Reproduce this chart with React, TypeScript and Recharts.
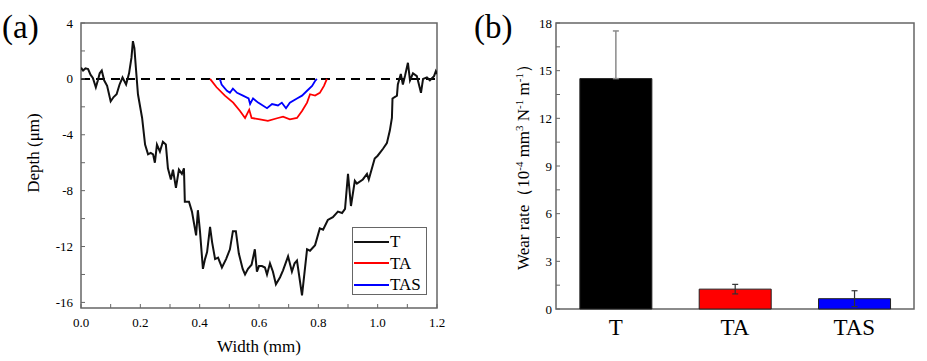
import React from 'react';
import {
  LineChart,
  Line,
  XAxis,
  YAxis,
  ReferenceLine,
  ReferenceArea,
  BarChart,
  Bar,
  ErrorBar,
  Cell,
} from 'recharts';

// (a) wear track profiles, [width (mm), depth (µm)]
const profileT: [number, number][] = [
  [0, 0.8], [0.007, 0.6], [0.015, 0.75], [0.024, 0.7], [0.032, 0.3], [0.04, 0.07], [0.05, -0.6],
  [0.057, -0.1], [0.063, 0.4], [0.07, 0.6], [0.078, -0.1], [0.088, -0.5], [0.1, -1.6],
  [0.11, -1.3], [0.12, -1.1], [0.13, -0.4], [0.14, 0.1], [0.152, -0.4], [0.162, 0.4],
  [0.17, 1.5], [0.175, 2.7], [0.18, 2.2], [0.185, 0.8], [0.192, -1.1], [0.206, -2.8],
  [0.216, -4.7], [0.226, -5.4], [0.235, -5.3], [0.243, -5.4], [0.249, -6.0], [0.256, -4.7],
  [0.266, -5.2], [0.276, -4.5], [0.286, -4.7], [0.293, -6.4], [0.303, -7.2], [0.31, -6.5],
  [0.32, -7.8], [0.33, -6.5], [0.34, -6.8], [0.347, -6.4], [0.35, -8.8], [0.364, -8.8],
  [0.374, -9.5], [0.388, -11.2], [0.394, -9.4], [0.401, -10.9], [0.411, -13.6], [0.418, -12.9],
  [0.425, -12.4], [0.435, -10.6], [0.442, -11.7], [0.452, -12.9], [0.462, -12.8], [0.475, -13.5],
  [0.489, -12.9], [0.502, -12.2], [0.512, -10.9], [0.522, -10.9], [0.532, -12.5], [0.545, -13.6],
  [0.553, -14.0], [0.563, -13.6], [0.575, -13.3], [0.586, -12.2], [0.593, -13.8], [0.6, -13.4],
  [0.61, -13.4], [0.62, -13.5], [0.627, -14.0], [0.637, -13.2], [0.647, -13.8], [0.657, -14.7],
  [0.671, -14.2], [0.681, -13.7], [0.698, -12.7], [0.711, -13.8], [0.72, -13.2], [0.728, -13.0],
  [0.745, -15.5], [0.762, -12.2], [0.772, -12.3], [0.789, -11.9], [0.805, -10.7], [0.816, -10.8],
  [0.832, -10.1], [0.849, -9.9], [0.866, -9.5], [0.88, -9.6], [0.89, -9.3], [0.9, -6.8],
  [0.91, -9.1], [0.923, -7.3], [0.93, -7.5], [0.95, -7.2], [0.964, -6.8], [0.97, -7.2],
  [0.99, -5.7], [1.0, -5.5], [1.018, -5.0], [1.031, -4.6], [1.041, -3.7], [1.048, -2.8],
  [1.05, -1.4], [1.065, -1.2], [1.068, -0.4], [1.078, 0.35], [1.085, -0.4], [1.092, 0.2],
  [1.102, 1.15], [1.109, -0.1], [1.119, 0.4], [1.132, 0.2], [1.146, -1.0], [1.153, 0.0],
  [1.166, 0.1], [1.176, -0.1], [1.19, 0.2], [1.196, 0.55], [1.2, 0.35],
];

const profileTA: [number, number][] = [
  [0.435, 0], [0.457, -0.6], [0.485, -1.2], [0.513, -1.7], [0.536, -2.3], [0.553, -2.8],
  [0.56, -2.5], [0.567, -2.2], [0.575, -2.8], [0.603, -2.9], [0.63, -3.0], [0.664, -2.8],
  [0.681, -2.7], [0.704, -2.9], [0.728, -2.8], [0.745, -2.3], [0.762, -1.7], [0.772, -1.1],
  [0.789, -1.2], [0.805, -1.0], [0.819, -0.5], [0.829, 0],
];

const profileTAS: [number, number][] = [
  [0.468, 0], [0.474, -0.4], [0.492, -0.85], [0.502, -1.0], [0.512, -0.7], [0.526, -1.0],
  [0.546, -1.2], [0.565, -1.4], [0.57, -1.8], [0.58, -1.4], [0.597, -1.7], [0.627, -2.1],
  [0.644, -1.8], [0.664, -1.9], [0.677, -1.7], [0.691, -2.1], [0.704, -1.7], [0.728, -1.4],
  [0.745, -1.2], [0.762, -0.85], [0.779, -0.5], [0.789, -0.15], [0.795, 0],
];

const seriesNames = ['T', 'TA', 'TAS'];
const seriesColors = ['#111111', '#ff0000', '#0000ff'];
const profiles = [profileT, profileTA, profileTAS];

const widthTicks = [0, 0.1, 0.2, 0.3, 0.4, 0.5, 0.6, 0.7, 0.8, 0.9, 1.0, 1.1, 1.2];
const depthTicks = [-16, -14, -12, -10, -8, -6, -4, -2, 0, 2, 4];

// (b) wear rate
const samples = ['T', 'TA', 'TAS'];
const wearRate = [14.5, 1.25, 0.65];
const wearErr: [number, number][] = [[0, 3], [0.3, 0.3], [0.5, 0.5]];
const barColors = ['#000000', '#ff0000', '#0000ff'];
const wearTicks = [0, 1.5, 3, 4.5, 6, 7.5, 9, 10.5, 12, 13.5, 15, 16.5, 18];

const FRAME = '#666';
const SERIF = '"Liberation Serif", "Times New Roman", serif';
const serifStyle = { fontFamily: SERIF };

const WidthTick = ({ x, y, payload }: any) => {
  const v = payload.value as number;
  const major = Math.round(v * 10) % 2 === 0;
  return (
    <g>
      <line x1={x} x2={x} y1={y} y2={y - 4} stroke={FRAME} strokeWidth={1} />
      {major && (
        <text x={x} y={y + 19} textAnchor="middle" fontSize={13} style={serifStyle} fill="#000">
          {v.toFixed(1)}
        </text>
      )}
    </g>
  );
};

const DepthTick = ({ x, y, payload }: any) => {
  const v = payload.value as number;
  return (
    <g>
      <line x1={x} x2={x + 4} y1={y} y2={y} stroke={FRAME} strokeWidth={1} />
      {v % 4 === 0 && (
        <text x={x - 8} y={y} dy="0.35em" textAnchor="end" fontSize={13} style={serifStyle} fill="#000">
          {v}
        </text>
      )}
    </g>
  );
};

const WearTick = ({ x, y, payload }: any) => {
  const v = payload.value as number;
  return (
    <g>
      <line x1={x} x2={x + 4} y1={y} y2={y} stroke={FRAME} strokeWidth={1} />
      {v % 3 === 0 && (
        <text x={x - 4} y={y} dy="0.35em" textAnchor="end" fontSize={13} style={serifStyle} fill="#000">
          {v}
        </text>
      )}
    </g>
  );
};

const SampleTick = ({ x, y, payload }: any) => (
  <text x={x} y={y + 26} textAnchor="middle" fontSize={23} style={serifStyle} fill="#000">
    {payload.value}
  </text>
);

export default function App() {
  const wearRows = samples.map((name, i) => ({
    name,
    rate: wearRate[i],
    errBig: i === 0 ? wearErr[i] : undefined,
    errSmall: i === 0 ? undefined : wearErr[i],
  }));

  return (
    <div
      style={{
        position: 'absolute',
        left: 0,
        top: 0,
        width: 927,
        height: 361,
        background: '#fff',
        fontFamily: SERIF,
      }}
    >
      <div style={{ position: 'absolute', left: 0, top: 0 }}>
        <LineChart width={460} height={361} margin={{ top: 23, right: 23, bottom: 0, left: 0 }}>
          <XAxis
            type="number"
            dataKey="x"
            domain={[0, 1.2]}
            ticks={widthTicks}
            interval={0}
            axisLine={false}
            tickLine={false}
            tickSize={0}
            tickMargin={0}
            height={53}
            tick={WidthTick}
            allowDataOverflow
          />
          <YAxis
            type="number"
            domain={[-16.4, 4]}
            ticks={depthTicks}
            interval={0}
            axisLine={false}
            tickLine={false}
            tickSize={0}
            tickMargin={0}
            width={81}
            tick={DepthTick}
            allowDataOverflow
          />
          <ReferenceArea x1={0} x2={1.2} y1={-16.4} y2={4} fill="none" stroke={FRAME} strokeWidth={1.5} />
          <ReferenceLine y={0} stroke="#000" strokeWidth={2} strokeDasharray="9 6" />
          {profiles.map((p, i) => (
            <Line
              key={seriesNames[i]}
              name={seriesNames[i]}
              data={p.map(([x, y]) => ({ x, y }))}
              dataKey="y"
              type="linear"
              stroke={seriesColors[i]}
              strokeWidth={i === 0 ? 2 : 1.8}
              dot={false}
              isAnimationActive={false}
            />
          ))}
        </LineChart>
      </div>

      <div style={{ position: 'absolute', left: 460, top: 0 }}>
        <BarChart
          width={467}
          height={361}
          data={wearRows}
          margin={{ top: 23, right: 13, bottom: 0, left: 0 }}
          barCategoryGap="20%"
        >
          <XAxis
            dataKey="name"
            axisLine={false}
            tickLine={false}
            tickSize={0}
            tickMargin={0}
            height={52}
            interval={0}
            tick={SampleTick}
          />
          <YAxis
            type="number"
            domain={[0, 18]}
            ticks={wearTicks}
            interval={0}
            axisLine={false}
            tickLine={false}
            tickSize={0}
            tickMargin={0}
            width={96}
            tick={WearTick}
          />
          <Bar dataKey="rate" stroke="#222" strokeWidth={1} isAnimationActive={false}>
            {wearRows.map((r, i) => (
              <Cell key={r.name} fill={barColors[i]} />
            ))}
            <ErrorBar dataKey="errBig" width={3} stroke="#8a8a8a" strokeWidth={1.5} isAnimationActive={false} />
            <ErrorBar dataKey="errSmall" width={3} stroke="#333" strokeWidth={1.2} isAnimationActive={false} />
          </Bar>
          <ReferenceArea y1={0} y2={18} fill="none" stroke={FRAME} strokeWidth={1.5} />
        </BarChart>
      </div>

      {/* legend for (a) */}
      <div
        style={{
          position: 'absolute',
          left: 352,
          top: 227,
          width: 75,
          height: 68,
          border: `1.5px solid ${FRAME}`,
          background: '#fff',
          boxSizing: 'border-box',
        }}
      >
        {seriesNames.map((n, i) => (
          <div
            key={n}
            style={{ display: 'flex', alignItems: 'center', height: 21.5, marginTop: i === 0 ? 3 : 0 }}
          >
            <div style={{ width: 35, height: 2, background: seriesColors[i], marginLeft: 1 }} />
            <span style={{ fontSize: 17, marginLeft: 1, lineHeight: '17px' }}>{n}</span>
          </div>
        ))}
      </div>

      {/* panel labels and axis titles */}
      <svg
        width={927}
        height={361}
        style={{ position: 'absolute', left: 0, top: 0, pointerEvents: 'none', fontFamily: SERIF }}
      >
        <text x={2} y={38} fontSize={33}>(a)</text>
        <text x={474} y={38} fontSize={33}>(b)</text>
        <text x={259} y={352} fontSize={17} textAnchor="middle">Width (mm)</text>
        <text x={39} y={153} fontSize={17} textAnchor="middle" transform="rotate(-90, 39, 153)">
          Depth (μm)
        </text>
        <text x={529} y={163} fontSize={17} textAnchor="middle" transform="rotate(-90, 529, 163)">
          Wear rate（10<tspan dy={-6} fontSize={11}>-4</tspan>
          <tspan dy={6}> mm</tspan>
          <tspan dy={-6} fontSize={11}>3</tspan>
          <tspan dy={6}> N</tspan>
          <tspan dy={-6} fontSize={11}>-1</tspan>
          <tspan dy={6}> m</tspan>
          <tspan dy={-6} fontSize={11}>-1</tspan>
          <tspan dy={6}>）</tspan>
        </text>
      </svg>
    </div>
  );
}
